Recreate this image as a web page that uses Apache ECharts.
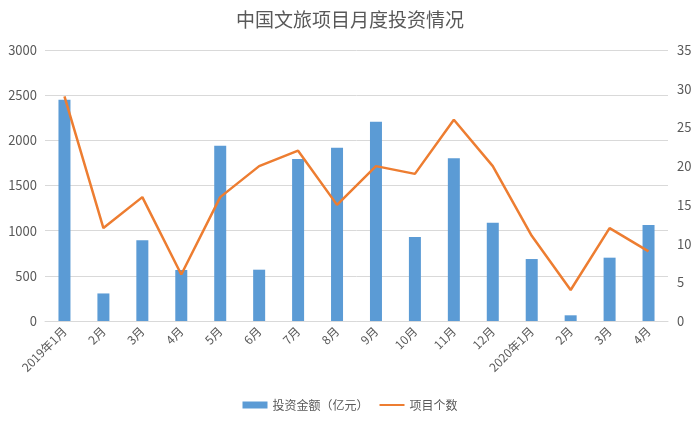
<!DOCTYPE html>
<html><head><meta charset="utf-8">
<script src="https://cdn.jsdelivr.net/npm/echarts@6/dist/echarts.min.js"></script>
<style>html,body{margin:0;padding:0;background:#fff}#c{width:700px;height:424px}</style>
</head><body><div id="c"></div>
<script>
const categories = ['2019年1月','2月','3月','4月','5月','6月','7月','8月','9月','10月','11月','12月','2020年1月','2月','3月','4月'];
const investment = [2450, 305, 893, 565, 1941, 568, 1793, 1919, 2207, 930, 1801, 1088, 686, 63, 701, 1063];
const projects = [29, 12, 16, 6, 16, 20, 22, 15, 20, 19, 26, 20, 11, 4, 12, 9];
const leftTicks = {min: 0, max: 3000, interval: 500};
const rightTicks = {min: 0, max: 35, interval: 5};

const font = '"Noto Sans CJK SC", sans-serif';
const chart = echarts.init(document.getElementById('c'), null, {renderer: 'canvas'});
chart.setOption({
  animation: false,
  textStyle: {fontFamily: font},
  title: {text: '中国文旅项目月度投资情况', left: 'center', top: 5,
    textStyle: {fontFamily: font, fontSize: 19, fontWeight: 'normal', color: '#595959'}},
  legend: {bottom: 8, left: 'center', itemWidth: 25, itemHeight: 7, itemGap: 10,
    textStyle: {fontFamily: font, fontSize: 12, color: '#595959'},
    data: [{name: '投资金额（亿元）', icon: 'rect'},
           {name: '项目个数', itemStyle: {opacity: 0}}]},
  grid: {left: 45, right: 32, top: 50, bottom: 103},
  xAxis: {type: 'category', data: categories,
    axisLine: {lineStyle: {color: '#d9d9d9'}}, axisTick: {show: false},
    axisLabel: {rotate: 45, color: '#595959', fontSize: 12, interval: 0, margin: 8}},
  yAxis: [
    {type: 'value', min: leftTicks.min, max: leftTicks.max, interval: leftTicks.interval,
     axisLine: {show: false}, axisTick: {show: false},
     axisLabel: {color: '#595959', fontSize: 13, margin: 8, formatter: v => String(v)},
     splitLine: {lineStyle: {color: '#d9d9d9'}}},
    {type: 'value', min: rightTicks.min, max: rightTicks.max, interval: rightTicks.interval,
     axisLine: {show: false}, axisTick: {show: false},
     axisLabel: {color: '#595959', fontSize: 13, margin: 9},
     splitLine: {show: false}}
  ],
  series: [
    {name: '投资金额（亿元）', type: 'bar', data: investment, barWidth: 12,
     itemStyle: {color: '#5B9BD5'}},
    {name: '项目个数', type: 'line', yAxisIndex: 1, data: projects, symbol: 'none',
     lineStyle: {color: '#ED7D31', width: 2.5}, itemStyle: {color: '#ED7D31'}}
  ]
});
</script></body></html>
